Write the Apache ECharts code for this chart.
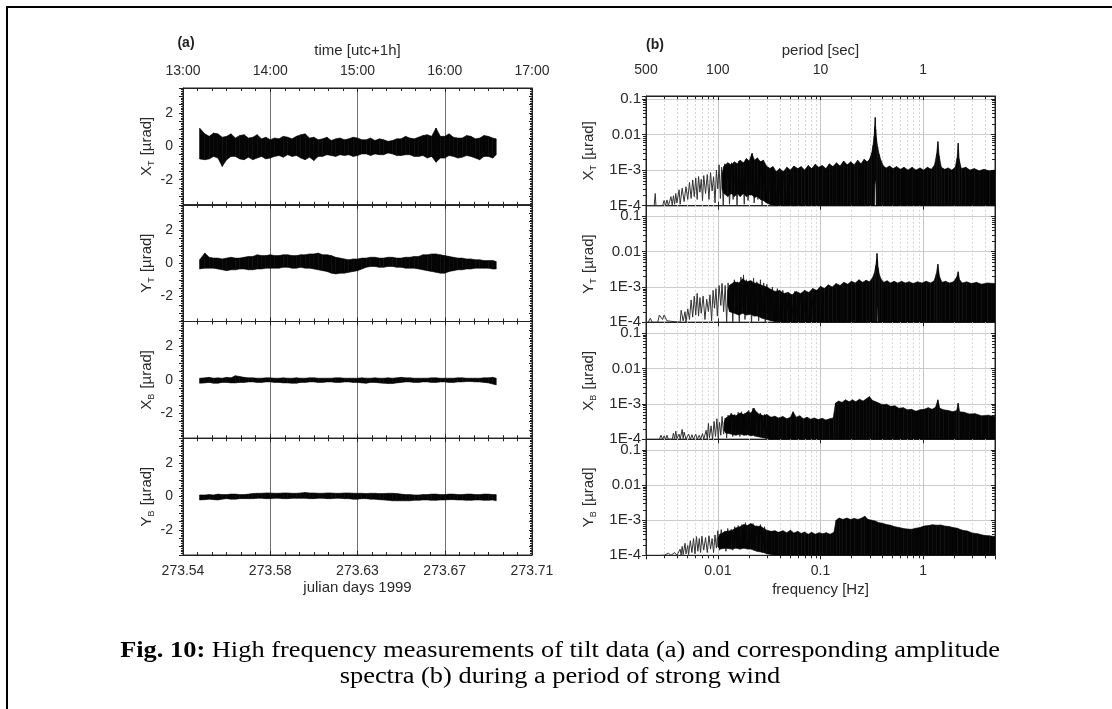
<!DOCTYPE html>
<html><head><meta charset="utf-8">
<script src="https://cdn.jsdelivr.net/npm/echarts@6/dist/echarts.min.js"></script>
<style>html,body{margin:0;padding:0;background:#fff}#c{width:1112px;height:709px}</style>
</head><body><div id="c"></div>
<script>
// ================= DATA =================
const timeTickLabels = ['13:00','14:00','15:00','16:00','17:00'];
const julianTickLabels = ['273.54','273.58','273.63','273.67','273.71'];
const leftYTicks = [2, 0, -2];
// sample times of the envelope readings (hours, utc+1h)
const sampleTimes = [13.19,
 13.25,13.3,13.35,13.4,13.45,13.5,13.55,13.6,13.65,13.7,13.75,13.8,13.85,13.9,13.95,
 14.0,14.05,14.1,14.15,14.2,14.25,14.3,14.35,14.4,14.45,14.5,14.55,14.6,14.65,14.7,14.75,14.8,14.85,14.9,14.95,
 15.0,15.05,15.1,15.15,15.2,15.25,15.3,15.35,15.4,15.45,15.5,15.55,15.6,15.65,15.7,15.75,15.8,15.85,15.9,15.95,
 16.0,16.05,16.1,16.15,16.2,16.25,16.3,16.35,16.4,16.45,16.5,16.55,
 16.59];
// tilt envelopes (µrad): upper / lower edge of the dense trace
const xtUpper = [1.1,
 0.75,0.6,0.8,0.75,0.55,0.6,0.75,0.5,0.65,0.7,0.5,0.55,0.7,0.45,0.55,
 0.4,0.5,0.45,0.6,0.55,0.45,0.6,0.7,0.75,0.5,0.55,0.4,0.45,0.55,0.35,0.45,0.5,0.4,0.45,0.55,
 0.5,0.4,0.4,0.5,0.35,0.45,0.4,0.3,0.35,0.45,0.45,0.6,0.5,0.45,0.55,0.65,0.7,0.6,1.1,0.6,
 0.6,0.75,0.55,0.5,0.5,0.65,0.6,0.45,0.5,0.65,0.6,0.5,
 0.45];
const xtLower = [-0.75,
 -0.8,-0.75,-0.6,-0.7,-1.2,-0.8,-0.6,-0.6,-0.75,-0.8,-0.65,-0.8,-0.7,-0.6,-0.75,
 -0.7,-0.6,-0.55,-0.65,-0.5,-0.6,-0.55,-0.7,-0.8,-0.65,-0.85,-0.6,-0.6,-0.5,-0.55,-0.6,-0.5,-0.55,-0.5,-0.6,
 -0.55,-0.45,-0.45,-0.55,-0.45,-0.5,-0.5,-0.4,-0.45,-0.55,-0.55,-0.5,-0.5,-0.6,-0.6,-0.55,-0.7,-0.6,-0.95,-0.7,
 -0.7,-0.55,-0.6,-0.7,-0.65,-0.55,-0.6,-0.7,-0.8,-0.6,-0.6,-0.7,
 -0.5];
const ytUpper = [0.2,
 0.6,0.35,0.3,0.3,0.25,0.3,0.35,0.3,0.3,0.35,0.4,0.4,0.5,0.45,0.45,
 0.5,0.45,0.45,0.5,0.5,0.45,0.45,0.5,0.5,0.55,0.55,0.6,0.5,0.5,0.45,0.35,0.3,0.25,0.2,0.25,
 0.25,0.3,0.3,0.35,0.35,0.3,0.3,0.35,0.35,0.3,0.3,0.35,0.35,0.4,0.4,0.5,0.5,0.55,0.55,0.5,
 0.45,0.4,0.35,0.3,0.3,0.25,0.25,0.2,0.2,0.15,0.15,0.15,
 0.1];
const ytLower = [-0.35,
 -0.3,-0.3,-0.3,-0.35,-0.4,-0.45,-0.4,-0.4,-0.35,-0.35,-0.4,-0.4,-0.35,-0.35,-0.3,
 -0.3,-0.3,-0.3,-0.25,-0.25,-0.3,-0.3,-0.25,-0.3,-0.3,-0.35,-0.4,-0.45,-0.5,-0.6,-0.65,-0.6,-0.6,-0.55,-0.5,
 -0.45,-0.35,-0.25,-0.2,-0.2,-0.25,-0.25,-0.2,-0.2,-0.25,-0.25,-0.3,-0.3,-0.3,-0.35,-0.4,-0.45,-0.5,-0.55,-0.6,
 -0.6,-0.5,-0.45,-0.4,-0.4,-0.35,-0.35,-0.3,-0.3,-0.3,-0.3,-0.35,
 -0.35];
const xbUpper = [0.1,
 0.12,0.15,0.1,0.12,0.1,0.15,0.12,0.25,0.2,0.15,0.12,0.12,0.1,0.1,0.12,
 0.12,0.1,0.1,0.12,0.1,0.1,0.12,0.1,0.1,0.12,0.12,0.1,0.1,0.1,0.1,0.12,0.12,0.1,0.1,0.1,
 0.1,0.12,0.1,0.1,0.12,0.1,0.1,0.12,0.1,0.12,0.15,0.12,0.12,0.1,0.1,0.1,0.1,0.12,0.12,0.1,
 0.1,0.1,0.1,0.12,0.12,0.1,0.1,0.1,0.1,0.12,0.12,0.15,
 0.1];
const xbLower = [-0.2,
 -0.18,-0.15,-0.2,-0.2,-0.15,-0.15,-0.18,-0.18,-0.15,-0.15,-0.12,-0.12,-0.15,-0.15,-0.12,
 -0.12,-0.15,-0.15,-0.18,-0.18,-0.2,-0.2,-0.15,-0.15,-0.12,-0.12,-0.15,-0.15,-0.12,-0.12,-0.15,-0.15,-0.12,-0.12,-0.15,
 -0.15,-0.18,-0.2,-0.15,-0.15,-0.18,-0.2,-0.22,-0.22,-0.18,-0.15,-0.12,-0.12,-0.15,-0.15,-0.12,-0.12,-0.15,-0.15,-0.12,
 -0.12,-0.15,-0.15,-0.12,-0.12,-0.1,-0.1,-0.12,-0.12,-0.15,-0.18,-0.25,
 -0.3];
const ybUpper = [0.1,
 0.1,0.12,0.1,0.15,0.12,0.12,0.15,0.15,0.12,0.12,0.15,0.18,0.2,0.2,0.22,
 0.22,0.2,0.2,0.22,0.22,0.2,0.2,0.22,0.25,0.22,0.22,0.2,0.2,0.22,0.22,0.2,0.2,0.22,0.22,0.2,
 0.2,0.2,0.18,0.2,0.2,0.18,0.18,0.2,0.2,0.18,0.15,0.12,0.12,0.1,0.1,0.12,0.12,0.15,0.15,0.12,
 0.12,0.15,0.15,0.12,0.12,0.15,0.15,0.12,0.12,0.15,0.15,0.12,
 0.12];
const ybLower = [-0.2,
 -0.18,-0.15,-0.18,-0.2,-0.15,-0.12,-0.15,-0.15,-0.12,-0.12,-0.12,-0.12,-0.1,-0.1,-0.12,
 -0.12,-0.1,-0.1,-0.12,-0.12,-0.1,-0.1,-0.1,-0.1,-0.12,-0.12,-0.1,-0.1,-0.12,-0.12,-0.1,-0.1,-0.12,-0.12,-0.15,
 -0.15,-0.12,-0.12,-0.15,-0.15,-0.18,-0.2,-0.22,-0.25,-0.25,-0.25,-0.25,-0.25,-0.22,-0.22,-0.2,-0.2,-0.22,-0.22,-0.2,
 -0.2,-0.18,-0.18,-0.2,-0.2,-0.22,-0.22,-0.2,-0.2,-0.22,-0.22,-0.2,
 -0.25];

// spectra tick labels
const specYTickExp = [-1,-2,-3,-4];
const specYTickText = ['0.1','0.01','1E-3','1E-4'];
const freqTickValues = [0.01,0.1,1];
const freqTickText = ['0.01','0.1','1'];
const periodTickFreq = [0.002,0.01,0.1,1];
const periodTickText = ['500','100','10','1'];

// spectra: sparse low-frequency lines [frequency Hz, amplitude µrad]
const xtLines = [[0.0021,1e-4],[0.0024,1e-4],[0.00246,2.2e-4],[0.0025,1e-4],[0.0029,1e-4],[0.003,1.4e-4],[0.0031,1e-4],[0.0032,1.45e-4],[0.0033,1e-4],[0.0035,1.8e-4],[0.0036,1.05e-4],[0.0037,1.9e-4],[0.0038,1.1e-4],[0.0039,2.2e-4],[0.004,1.2e-4],[0.0042,2.8e-4],[0.0043,1.1e-4],[0.0045,3.1e-4],[0.0047,1.3e-4],[0.0049,3.4e-4],[0.0051,1.5e-4],[0.0053,4.5e-4],[0.0055,1.6e-4],[0.0057,5.3e-4],[0.0059,1.8e-4],[0.0061,6e-4],[0.0063,1.5e-4],[0.0065,6.6e-4],[0.0067,2.4e-4],[0.0069,5.5e-4],[0.0071,1.4e-4],[0.0073,7e-4],[0.0076,2.2e-4],[0.0079,7.5e-4],[0.0082,1.5e-4],[0.0085,8.5e-4],[0.0088,2.6e-4],[0.0091,6.5e-4],[0.0094,1.2e-4],[0.0097,1e-3],[0.01,3e-4],[0.0103,1.4e-3],[0.0106,1.6e-4],[0.0109,1.2e-3],[0.0113,1e-4],[0.0117,1.5e-3],[0.0121,2.5e-4],[0.0126,1.3e-3],[0.013,1.1e-4],[0.0136,1.6e-3],[0.0141,1.5e-4],[0.0148,1.4e-3],[0.0154,1e-4],[0.016,1.8e-3],[0.0167,2e-4],[0.0174,1.5e-3],[0.0181,1.1e-4],[0.0189,2e-3],[0.0197,1.4e-4],[0.0207,1.7e-3],[0.0217,2.9e-3],[0.0226,1.2e-4],[0.0236,2e-3],[0.0246,1.5e-4],[0.0258,1.8e-3],[0.027,1e-4],[0.0284,1.6e-3],[0.0298,1.3e-4],[0.0313,1.2e-3],[0.033,1e-4],[0.035,1.1e-3],[0.037,1.2e-4],[0.039,1e-3],[0.041,1e-4],[0.044,9e-4],[0.047,1.1e-4],[0.05,1e-3],[0.054,1e-4]];
const ytLines = [[0.0021,1e-4],[0.0022,1.3e-4],[0.0023,1e-4],[0.0026,1e-4],[0.0027,1.6e-4],[0.0029,1.2e-4],[0.003,1.6e-4],[0.0032,1.1e-4],[0.0033,1e-4],[0.0043,1e-4],[0.0044,2.2e-4],[0.0046,1.1e-4],[0.0048,2e-4],[0.0049,1e-4],[0.0051,2.4e-4],[0.0053,1.2e-4],[0.0055,4.3e-4],[0.0057,1.4e-4],[0.0059,5.5e-4],[0.0061,1.6e-4],[0.0063,6.6e-4],[0.0065,1.5e-4],[0.0067,5e-4],[0.0069,1.8e-4],[0.0072,5.5e-4],[0.0075,1.2e-4],[0.0078,4.5e-4],[0.0081,2e-4],[0.0084,6e-4],[0.0087,1.1e-4],[0.009,8e-4],[0.0093,2.5e-4],[0.0096,9e-4],[0.0099,1.5e-4],[0.0103,1.1e-3],[0.0107,3e-4],[0.011,1.26e-3],[0.0114,2e-4],[0.0118,1.1e-3],[0.0122,1e-4],[0.0126,1.3e-3],[0.013,2.5e-4],[0.0135,1.2e-3],[0.014,1e-4],[0.0145,1.6e-3],[0.015,3e-4],[0.0156,1.4e-3],[0.0162,1e-4],[0.0168,1.9e-3],[0.0174,3e-4],[0.0178,2.2e-3],[0.0184,1.2e-4],[0.019,1.6e-3],[0.0197,2e-4],[0.0205,1.5e-3],[0.0213,1e-4],[0.0223,1.8e-3],[0.023,2e-4],[0.024,1.4e-3],[0.025,1.1e-4],[0.026,1.6e-3],[0.027,2e-4],[0.028,1.3e-3],[0.029,1e-4],[0.03,1.2e-3],[0.032,1.5e-4],[0.034,1e-3],[0.036,1e-4],[0.038,9e-4],[0.04,1.3e-4],[0.043,8e-4],[0.046,1e-4],[0.049,7e-4],[0.052,1.1e-4],[0.056,7.5e-4],[0.06,1e-4],[0.064,6e-4],[0.068,1.2e-4],[0.072,7e-4],[0.077,1e-4],[0.082,6.5e-4],[0.087,1e-4],[0.092,8e-4],[0.1,1e-4]];
const xbLines = [[0.0027,1e-4],[0.0028,1.3e-4],[0.0029,1e-4],[0.003,1.25e-4],[0.0031,1e-4],[0.0032,1.3e-4],[0.0033,1e-4],[0.0036,1e-4],[0.0037,1.5e-4],[0.0038,1e-4],[0.0039,1.7e-4],[0.004,1.05e-4],[0.0042,1.4e-4],[0.0043,1e-4],[0.0045,1.9e-4],[0.0046,1.05e-4],[0.0047,1.6e-4],[0.0049,1e-4],[0.0052,1.4e-4],[0.0054,1e-4],[0.0056,1.35e-4],[0.0058,1e-4],[0.0061,1.4e-4],[0.0063,1e-4],[0.0066,1.3e-4],[0.0068,1e-4],[0.0071,1.45e-4],[0.0073,1e-4],[0.0077,1.8e-4],[0.0079,1e-4],[0.0081,2.8e-4],[0.0083,1.1e-4],[0.0086,2.4e-4],[0.0089,1e-4],[0.0092,3.2e-4],[0.0095,1.2e-4],[0.0098,3.8e-4],[0.0101,1.1e-4],[0.0104,3e-4],[0.0107,1.3e-4],[0.011,4.4e-4],[0.0114,1.4e-4],[0.0118,4e-4],[0.0122,1.1e-4],[0.0126,4.8e-4],[0.013,1.5e-4],[0.0135,5.5e-4],[0.014,1.2e-4],[0.0146,5e-4],[0.0152,1.6e-4],[0.0158,5.8e-4],[0.0164,1.2e-4],[0.017,6e-4],[0.0177,1.5e-4],[0.0184,5.5e-4],[0.0191,1.3e-4],[0.02,6.5e-4],[0.021,1.4e-4],[0.022,7.5e-4],[0.023,1.2e-4],[0.024,6e-4],[0.025,1.5e-4],[0.026,5.5e-4],[0.0272,1.1e-4],[0.0285,5e-4],[0.03,1.3e-4]];
const ybLines = [[0.0028,1e-4],[0.0029,1.1e-4],[0.003,1e-4],[0.0033,1.15e-4],[0.0035,1e-4],[0.0038,1.2e-4],[0.004,1e-4],[0.0043,1.5e-4],[0.0044,1e-4],[0.0045,1.8e-4],[0.0046,1.05e-4],[0.0048,2.2e-4],[0.0049,1.1e-4],[0.0051,1.9e-4],[0.0052,1.05e-4],[0.0054,2.6e-4],[0.0056,1.2e-4],[0.0058,3e-4],[0.006,1.1e-4],[0.0062,3.4e-4],[0.0064,1.3e-4],[0.0066,3e-4],[0.0068,1.2e-4],[0.007,3.5e-4],[0.0073,1.4e-4],[0.0076,3.2e-4],[0.0079,1.2e-4],[0.0082,3.6e-4],[0.0085,1.5e-4],[0.0088,3e-4],[0.0091,1.2e-4],[0.0094,3.8e-4],[0.0097,1.6e-4],[0.01,5e-4],[0.0104,1.4e-4],[0.0108,5.4e-4],[0.0112,1.8e-4],[0.0116,4.8e-4],[0.012,1.3e-4],[0.0125,5.8e-4],[0.013,1.8e-4],[0.0135,5.5e-4],[0.014,1.4e-4],[0.0146,6.5e-4],[0.0152,2e-4],[0.0158,7e-4],[0.0165,1.5e-4],[0.0172,7.5e-4],[0.0179,2e-4],[0.0186,8.5e-4],[0.0194,1.6e-4],[0.0202,7.5e-4],[0.021,2e-4],[0.022,8e-4],[0.023,1.4e-4],[0.024,7e-4],[0.025,1.8e-4],[0.026,7.5e-4],[0.0272,1.2e-4],[0.0285,6.5e-4],[0.03,1.5e-4]];

// spectra: dense part envelope [frequency Hz, upper, lower]
const xtBand = [[0.011,8e-4,3e-4],[0.0115,1.3e-3,2.2e-4],[0.0125,1.6e-3,1.8e-4],[0.0135,1.4e-3,2.2e-4],[0.0145,1.7e-3,1.8e-4],[0.0155,1.5e-3,2.2e-4],[0.0165,1.9e-3,1.8e-4],[0.0178,1.6e-3,2.2e-4],[0.019,2.1e-3,1.8e-4],[0.0202,1.8e-3,2e-4],[0.0215,2.9e-3,2e-4],[0.0228,1.9e-3,1.7e-4],[0.0243,2.2e-3,1.8e-4],[0.026,1.7e-3,1.5e-4],[0.0278,1.9e-3,1.4e-4],[0.0298,1.3e-3,1.2e-4],[0.032,1.1e-3,1.1e-4],[0.0345,1.25e-3,1.05e-4],[0.037,9e-4,1e-4],[0.04,1.1e-3,1.05e-4],[0.0435,9e-4,1e-4],[0.047,1.2e-3,1e-4],[0.051,1e-3,1e-4],[0.055,1.3e-3,1e-4],[0.06,1.1e-3,1e-4],[0.065,1.25e-3,1e-4],[0.07,1e-3,1e-4],[0.076,1.35e-3,1e-4],[0.082,1.1e-3,1e-4],[0.089,1.45e-3,1e-4],[0.096,1.2e-3,1e-4],[0.104,1.35e-3,1e-4],[0.113,1.1e-3,1e-4],[0.122,1.5e-3,1e-4],[0.132,1.25e-3,1e-4],[0.143,1.6e-3,1e-4],[0.155,1.3e-3,1e-4],[0.168,1.8e-3,1e-4],[0.182,1.4e-3,1e-4],[0.197,1.7e-3,1e-4],[0.213,1.4e-3,1e-4],[0.23,1.9e-3,1e-4],[0.248,1.5e-3,1e-4],[0.266,2e-3,1e-4],[0.285,1.7e-3,1e-4],[0.3,2e-3,1e-4],[0.315,3e-3,1e-4],[0.325,5e-3,1e-4],[0.333,9e-3,1e-4],[0.337,1.6e-2,4e-4],[0.341,3e-2,5e-4],[0.345,1.4e-2,5e-4],[0.35,8e-3,1e-4],[0.36,4.5e-3,1e-4],[0.372,2.8e-3,1e-4],[0.39,1.8e-3,1e-4],[0.41,1.3e-3,1e-4],[0.435,1.15e-3,1e-4],[0.47,1.3e-3,1e-4],[0.51,1.1e-3,1e-4],[0.55,1.25e-3,1e-4],[0.6,1.05e-3,1e-4],[0.65,1.2e-3,1e-4],[0.71,1e-3,1e-4],[0.78,1.2e-3,1e-4],[0.85,1e-3,1e-4],[0.93,1.15e-3,1e-4],[1.01,1e-3,1e-4],[1.1,1.2e-3,1e-4],[1.2,1.05e-3,1e-4],[1.29,1.4e-3,1e-4],[1.35,2.8e-3,1e-4],[1.39,6.3e-3,1e-4],[1.43,2.5e-3,1e-4],[1.5,1.2e-3,1e-4],[1.62,1.05e-3,1e-4],[1.75,1.15e-3,1e-4],[1.9,1e-3,1e-4],[2.05,1.2e-3,1e-4],[2.14,2.2e-3,1e-4],[2.19,5.7e-3,1e-4],[2.24,2e-3,1e-4],[2.35,1.1e-3,1e-4],[2.6,1.2e-3,1e-4],[2.85,1e-3,1e-4],[3.15,1.1e-3,1e-4],[3.5,9.5e-4,1e-4],[3.9,1.05e-3,1e-4],[4.4,9.5e-4,1e-4],[5,1e-3,1e-4]];
const ytBand = [[0.0125,8e-4,3e-4],[0.013,1.1e-3,2e-4],[0.0145,1.4e-3,1.8e-4],[0.016,1.3e-3,1.6e-4],[0.0175,1.7e-3,1.8e-4],[0.019,1.4e-3,1.6e-4],[0.021,1.5e-3,1.7e-4],[0.0225,1.3e-3,1.5e-4],[0.0245,1.25e-3,1.5e-4],[0.027,1.1e-3,1.3e-4],[0.03,1e-3,1.2e-4],[0.033,8.5e-4,1.1e-4],[0.036,7.5e-4,1.05e-4],[0.04,8e-4,1e-4],[0.044,6.5e-4,1e-4],[0.048,7e-4,1e-4],[0.053,6e-4,1e-4],[0.058,7.5e-4,1e-4],[0.064,6.5e-4,1e-4],[0.07,8e-4,1e-4],[0.077,7e-4,1e-4],[0.084,9e-4,1e-4],[0.092,8e-4,1e-4],[0.1,1.05e-3,1e-4],[0.109,9e-4,1e-4],[0.119,1.15e-3,1e-4],[0.13,1e-3,1e-4],[0.142,1.25e-3,1e-4],[0.155,1.1e-3,1e-4],[0.169,1.35e-3,1e-4],[0.184,1.2e-3,1e-4],[0.2,1.45e-3,1e-4],[0.218,1.3e-3,1e-4],[0.237,1.6e-3,1e-4],[0.257,1.35e-3,1e-4],[0.278,1.55e-3,1e-4],[0.3,1.4e-3,1e-4],[0.32,1.8e-3,1e-4],[0.335,2.5e-3,1e-4],[0.345,4e-3,1e-4],[0.352,6e-3,1e-4],[0.355,8.9e-3,2.8e-4],[0.359,6e-3,2.8e-4],[0.364,3.5e-3,1e-4],[0.375,2.2e-3,1e-4],[0.392,1.6e-3,1e-4],[0.415,1.35e-3,1e-4],[0.445,1.5e-3,1e-4],[0.48,1.3e-3,1e-4],[0.52,1.45e-3,1e-4],[0.565,1.3e-3,1e-4],[0.615,1.45e-3,1e-4],[0.67,1.3e-3,1e-4],[0.73,1.4e-3,1e-4],[0.8,1.25e-3,1e-4],[0.88,1.4e-3,1e-4],[0.97,1.3e-3,1e-4],[1.07,1.45e-3,1e-4],[1.18,1.3e-3,1e-4],[1.28,1.5e-3,1e-4],[1.34,2.3e-3,1e-4],[1.39,4.4e-3,1e-4],[1.44,2e-3,1e-4],[1.52,1.35e-3,1e-4],[1.65,1.45e-3,1e-4],[1.8,1.3e-3,1e-4],[1.97,1.4e-3,1e-4],[2.12,1.9e-3,1e-4],[2.19,2.7e-3,1e-4],[2.26,1.6e-3,1e-4],[2.4,1.3e-3,1e-4],[2.65,1.4e-3,1e-4],[2.95,1.25e-3,1e-4],[3.3,1.35e-3,1e-4],[3.7,1.2e-3,1e-4],[4.2,1.3e-3,1e-4],[5,1.25e-3,1e-4]];
const xbBand = [[0.0115,3e-4,1.8e-4],[0.012,4e-4,1.5e-4],[0.0135,5e-4,1.4e-4],[0.015,4.6e-4,1.3e-4],[0.0165,5.5e-4,1.4e-4],[0.018,5e-4,1.3e-4],[0.0195,6e-4,1.35e-4],[0.021,5.5e-4,1.25e-4],[0.0225,7.5e-4,1.3e-4],[0.024,5.5e-4,1.2e-4],[0.026,5e-4,1.15e-4],[0.028,4.6e-4,1.1e-4],[0.03,5e-4,1.05e-4],[0.033,4.2e-4,1e-4],[0.036,4.5e-4,1e-4],[0.039,4e-4,1e-4],[0.043,4.4e-4,1e-4],[0.047,3.8e-4,1e-4],[0.051,4.2e-4,1e-4],[0.054,6e-4,1e-4],[0.058,4.2e-4,1e-4],[0.063,4.6e-4,1e-4],[0.068,3.8e-4,1e-4],[0.074,4.2e-4,1e-4],[0.08,3.7e-4,1e-4],[0.087,4e-4,1e-4],[0.095,3.6e-4,1e-4],[0.104,3.9e-4,1e-4],[0.113,3.5e-4,1e-4],[0.123,3.8e-4,1e-4],[0.133,4e-4,1e-4],[0.14,1.05e-3,1e-4],[0.15,1.2e-3,1e-4],[0.162,1.1e-3,1e-4],[0.175,1.3e-3,1e-4],[0.19,1.15e-3,1e-4],[0.205,1.3e-3,1e-4],[0.22,1.15e-3,1e-4],[0.24,1.35e-3,1e-4],[0.26,1.2e-3,1e-4],[0.28,1.4e-3,1e-4],[0.3,1.6e-3,1e-4],[0.32,1.25e-3,1e-4],[0.345,1.15e-3,1e-4],[0.37,1.05e-3,1e-4],[0.4,9.5e-4,1e-4],[0.44,9.8e-4,1e-4],[0.48,8.5e-4,1e-4],[0.53,8.8e-4,1e-4],[0.58,7.5e-4,1e-4],[0.64,7.8e-4,1e-4],[0.7,6.8e-4,1e-4],[0.77,7e-4,1e-4],[0.85,6.2e-4,1e-4],[0.93,6.8e-4,1e-4],[1.02,7e-4,1e-4],[1.12,7.8e-4,1e-4],[1.22,7e-4,1e-4],[1.32,8e-4,1e-4],[1.39,1.3e-3,1e-4],[1.45,7.5e-4,1e-4],[1.58,6.8e-4,1e-4],[1.75,6.5e-4,1e-4],[1.95,6e-4,1e-4],[2.12,6.5e-4,1e-4],[2.19,1.05e-3,1e-4],[2.26,6e-4,1e-4],[2.5,5.8e-4,1e-4],[2.8,5.2e-4,1e-4],[3.2,5.3e-4,1e-4],[3.7,4.6e-4,1e-4],[4.3,4.8e-4,1e-4],[5,4.4e-4,1e-4]];
const ybBand = [[0.01,3e-4,1.8e-4],[0.0105,4e-4,1.5e-4],[0.012,4.8e-4,1.6e-4],[0.0135,5e-4,1.5e-4],[0.015,6e-4,1.6e-4],[0.0165,6.5e-4,1.5e-4],[0.018,7.5e-4,1.6e-4],[0.0195,7e-4,1.5e-4],[0.021,8e-4,1.5e-4],[0.0225,7e-4,1.4e-4],[0.024,6.5e-4,1.3e-4],[0.026,6.8e-4,1.25e-4],[0.028,5.8e-4,1.2e-4],[0.03,5.2e-4,1.1e-4],[0.033,4.8e-4,1.05e-4],[0.036,5e-4,1e-4],[0.039,4.5e-4,1e-4],[0.043,5e-4,1e-4],[0.047,4.4e-4,1e-4],[0.051,5.2e-4,1e-4],[0.055,4.3e-4,1e-4],[0.06,4.8e-4,1e-4],[0.065,4.2e-4,1e-4],[0.07,4.6e-4,1e-4],[0.076,4e-4,1e-4],[0.082,4.5e-4,1e-4],[0.089,4e-4,1e-4],[0.097,4.4e-4,1e-4],[0.105,4.1e-4,1e-4],[0.114,4.4e-4,1e-4],[0.124,4e-4,1e-4],[0.135,4.5e-4,1e-4],[0.142,1e-3,1e-4],[0.152,1.15e-3,1e-4],[0.165,1.05e-3,1e-4],[0.18,1.15e-3,1e-4],[0.196,1.05e-3,1e-4],[0.213,1.12e-3,1e-4],[0.232,1.05e-3,1e-4],[0.252,1.15e-3,1e-4],[0.27,1.3e-3,1e-4],[0.29,1.05e-3,1e-4],[0.315,1e-3,1e-4],[0.34,9.5e-4,1e-4],[0.37,8.5e-4,1e-4],[0.4,8.2e-4,1e-4],[0.44,7.5e-4,1e-4],[0.48,7.2e-4,1e-4],[0.53,6.5e-4,1e-4],[0.58,6.2e-4,1e-4],[0.64,5.8e-4,1e-4],[0.7,5.6e-4,1e-4],[0.77,5.5e-4,1e-4],[0.85,5.9e-4,1e-4],[0.93,6.2e-4,1e-4],[1.02,6.8e-4,1e-4],[1.12,7e-4,1e-4],[1.23,7.4e-4,1e-4],[1.35,7.2e-4,1e-4],[1.48,7.3e-4,1e-4],[1.62,6.8e-4,1e-4],[1.78,6.6e-4,1e-4],[1.95,6.2e-4,1e-4],[2.15,5.9e-4,1e-4],[2.4,5.2e-4,1e-4],[2.7,4.9e-4,1e-4],[3.0,4.3e-4,1e-4],[3.4,4.1e-4,1e-4],[3.9,3.7e-4,1e-4],[4.4,3.6e-4,1e-4],[5,3.4e-4,1e-4]];

// ================= BUILD =================
const FONT = '"Liberation Sans", Arial, Helvetica, sans-serif';
const SERIF = '"Liberation Serif", "Times New Roman", serif';
const AX = '#222';
const TXT = '#2a2a2a';

const leftPanels = [
  {sub:'T', letter:'X', up:xtUpper, lo:xtLower},
  {sub:'T', letter:'Y', up:ytUpper, lo:ytLower},
  {sub:'B', letter:'X', up:xbUpper, lo:xbLower},
  {sub:'B', letter:'Y', up:ybUpper, lo:ybLower}
];
const rightPanels = [
  {sub:'T', letter:'X', lines:xtLines, band:xtBand, ymax:0.12},
  {sub:'T', letter:'Y', lines:ytLines, band:ytBand, ymax:0.2},
  {sub:'B', letter:'X', lines:xbLines, band:xbBand, ymax:0.2},
  {sub:'B', letter:'Y', lines:ybLines, band:ybBand, ymax:0.2}
];
const leftTops = [88, 204.75, 321.5, 438.25], leftH = 116.75;
const rightTops = [96, 205.7, 322.3, 439.3], rightBottoms = [205.7, 322.3, 439.3, 555.3];

const nameRich = {
  n: {fontSize: 15, fontFamily: FONT, color: TXT, lineHeight: 18},
  s: {fontSize: 9, fontFamily: FONT, color: TXT, verticalAlign: 'bottom', lineHeight: 9, padding: [0, 1, 0, 0]}
};
function yName(p){ return '{n|' + p.letter + '}{s|' + p.sub + '}{n| [µrad]}'; }

// log-axis minor positions (2..9 within each decade)
function minorsBetween(a, b){
  const out = [];
  for (let e = -5; e <= 1; e++) for (let m = 2; m <= 9; m++) {
    const v = m * Math.pow(10, e);
    if (v > a * 1.0001 && v < b * 0.9999) out.push(v);
  }
  return out;
}
const freqMinors = minorsBetween(0.002, 5);

const grids = [], xAxes = [], yAxes = [], series = [];
const lbl = {fontSize: 14, color: TXT, fontFamily: FONT};

function bandRender(pts){
  return function(params, api){
    const i = params.dataIndex;
    if (i >= pts.length - 1) return null;
    const a = pts[i], b = pts[i + 1];
    const p1 = api.coord([a[0], a[1]]), p2 = api.coord([b[0], b[1]]);
    const p3 = api.coord([b[0], b[2]]), p4 = api.coord([a[0], a[2]]);
    return {type: 'polygon', shape: {points: [p1, p2, p3, p4]},
      style: {fill: '#050505', stroke: '#050505', lineWidth: 0.6}};
  };
}

// ---- left (time series) panels ----
leftPanels.forEach((p, i) => {
  const g = grids.length;
  grids.push({left: 183, top: leftTops[i], width: 349, height: leftH, show: true,
    borderColor: AX, borderWidth: 1, backgroundColor: 'transparent', containLabel: false, outerBoundsMode: 'none'});
  const xb = xAxes.length;
  xAxes.push({gridIndex: g, type: 'value', position: 'bottom', min: 13, max: 17, interval: 1,
    axisLine: {show: true, onZero: false, lineStyle: {color: AX}},
    axisTick: {show: true, inside: true, length: 4, lineStyle: {color: AX}},
    minorTick: {show: true, splitNumber: 6, length: 3, lineStyle: {color: AX}},
    splitLine: {show: true, lineStyle: {color: '#707070', width: 1}},
    axisLabel: {show: i === 3, margin: 9, formatter: v => julianTickLabels[Math.round(v - 13)] || '', ...lbl},
    name: i === 3 ? 'julian days 1999' : '', nameLocation: 'middle', nameGap: 25,
    nameTextStyle: {fontSize: 15, color: TXT, fontFamily: FONT}});
  xAxes.push({gridIndex: g, type: 'value', position: 'top', min: 13, max: 17, interval: 1,
    axisLine: {show: true, onZero: false, lineStyle: {color: AX}},
    axisTick: {show: true, inside: true, length: 4, lineStyle: {color: AX}},
    minorTick: {show: true, splitNumber: 6, length: 3, lineStyle: {color: AX}},
    splitLine: {show: false},
    axisLabel: {show: i === 0, margin: 10, formatter: v => timeTickLabels[Math.round(v - 13)] || '', ...lbl},
    name: i === 0 ? 'time [utc+1h]' : '', nameLocation: 'middle', nameGap: 30,
    nameTextStyle: {fontSize: 15, color: TXT, fontFamily: FONT}});
  const yb = yAxes.length;
  yAxes.push({gridIndex: g, type: 'value', position: 'left', min: -3.5, max: 3.5, interval: 0.5,
    axisLine: {show: true, onZero: false, lineStyle: {color: AX}},
    axisTick: {show: true, inside: false, length: 4, lineStyle: {color: AX}},
    minorTick: {show: true, splitNumber: 5, length: 2, lineStyle: {color: AX}},
    splitLine: {show: false},
    axisLabel: {margin: 10, formatter: v => (leftYTicks.some(t => Math.abs(t - v) < 1e-9) ? String(Math.round(v)) : ''), ...lbl},
    name: yName(p), nameLocation: 'middle', nameGap: 27,
    nameTextStyle: {rich: nameRich}});
  yAxes.push({gridIndex: g, type: 'value', position: 'right', min: -3.5, max: 3.5, interval: 0.5,
    axisLine: {show: true, onZero: false, lineStyle: {color: AX}},
    axisTick: {show: true, inside: true, length: 3, lineStyle: {color: AX}},
    minorTick: {show: true, splitNumber: 5, length: 2, lineStyle: {color: AX}},
    splitLine: {show: false}, axisLabel: {show: false}});
  const pts = sampleTimes.map((t, k) => [t, p.up[k], p.lo[k]]);
  series.push({type: 'custom', xAxisIndex: xb, yAxisIndex: yb, silent: true, z: 5, clip: true,
    data: pts, encode: {x: 0, y: [1, 2]}, renderItem: bandRender(pts)});
});

// ---- right (spectra) panels ----
rightPanels.forEach((p, i) => {
  const g = grids.length;
  const h = rightBottoms[i] - rightTops[i];
  grids.push({left: 646, top: rightTops[i], width: 349, height: h, show: true,
    borderColor: AX, borderWidth: 1, backgroundColor: 'transparent', containLabel: false, outerBoundsMode: 'none'});
  const xb = xAxes.length;
  xAxes.push({gridIndex: g, type: 'log', logBase: 10, position: 'bottom', min: 0.002, max: 5,
    axisLine: {show: true, onZero: false, lineStyle: {color: AX}},
    axisTick: {show: true, inside: i !== 3, length: 4, lineStyle: {color: AX}},
    splitLine: {show: true, lineStyle: {color: '#c6c6c6', width: 1}},
    axisLabel: {show: i === 3, margin: 9, formatter: v => {
      const k = freqTickValues.findIndex(t => Math.abs(t - v) / t < 1e-6);
      return k >= 0 ? freqTickText[k] : '';
    }, ...lbl},
    name: i === 3 ? 'frequency [Hz]' : '', nameLocation: 'middle', nameGap: 27,
    nameTextStyle: {fontSize: 15, color: TXT, fontFamily: FONT}});
  xAxes.push({gridIndex: g, type: 'log', logBase: 10, position: 'top', min: 0.002, max: 5,
    axisLine: {show: true, onZero: false, lineStyle: {color: AX}},
    axisTick: {show: true, inside: true, length: 4, lineStyle: {color: AX}},
    splitLine: {show: false},
    axisLabel: {show: i === 0, margin: 19, showMinLabel: true, formatter: v => {
      const k = periodTickFreq.findIndex(t => Math.abs(t - v) / t < 1e-6);
      return k >= 0 ? periodTickText[k] : '';
    }, ...lbl},
    name: i === 0 ? 'period [sec]' : '', nameLocation: 'middle', nameGap: 38,
    nameTextStyle: {fontSize: 15, color: TXT, fontFamily: FONT}});
  const yb = yAxes.length;
  yAxes.push({gridIndex: g, type: 'log', logBase: 10, position: 'left', min: 1e-4, max: p.ymax,
    axisLine: {show: true, onZero: false, lineStyle: {color: AX}},
    axisTick: {show: true, inside: false, length: 4, lineStyle: {color: AX}},
    splitLine: {show: true, lineStyle: {color: '#cccccc', width: 1}},
    axisLabel: {margin: 5, fontSize: 15, color: TXT, fontFamily: FONT, formatter: v => {
      const l = Math.log10(v), e = Math.round(l);
      if (Math.abs(l - e) > 1e-6) return '';
      const k = specYTickExp.indexOf(e);
      return k >= 0 ? specYTickText[k] : '';
    }},
    name: yName(p), nameLocation: 'middle', nameGap: 48,
    nameTextStyle: {rich: nameRich}});
  yAxes.push({gridIndex: g, type: 'log', logBase: 10, position: 'right', min: 1e-4, max: p.ymax,
    axisLine: {show: true, onZero: false, lineStyle: {color: AX}},
    axisTick: {show: true, inside: true, length: 4, lineStyle: {color: AX}},
    splitLine: {show: false}, axisLabel: {show: false}});

  // minor vertical dotted grid + minor ticks
  series.push({type: 'custom', xAxisIndex: xb, yAxisIndex: yb, silent: true, z: 1, clip: false,
    data: freqMinors.map(f => [f, 1e-3]), encode: {x: 0, y: 1},
    renderItem: (params, api) => {
      const cs = params.coordSys;
      const x = Math.round(api.coord([api.value(0), 1e-3])[0]) + 0.5;
      const ch = [{type: 'line', shape: {x1: x, y1: cs.y, x2: x, y2: cs.y + cs.height},
        style: {stroke: '#d6d6d6', lineWidth: 1, lineDash: [2, 2]}}];
      if (i === 3) ch.push({type: 'line', shape: {x1: x, y1: cs.y + cs.height, x2: x, y2: cs.y + cs.height + 3}, style: {stroke: AX, lineWidth: 1}});
      if (i === 0) ch.push({type: 'line', shape: {x1: x, y1: cs.y, x2: x, y2: cs.y + 3}, style: {stroke: AX, lineWidth: 1}});
      return {type: 'group', children: ch};
    }});
  // minor y ticks (log) on left (outside) and right (inside)
  series.push({type: 'custom', xAxisIndex: xb, yAxisIndex: yb, silent: true, z: 2, clip: false,
    data: minorsBetween(1e-4, p.ymax).map(v => [0.01, v]), encode: {x: 0, y: 1},
    renderItem: (params, api) => {
      const cs = params.coordSys;
      const y = Math.round(api.coord([0.01, api.value(1)])[1]) + 0.5;
      return {type: 'group', children: [
        {type: 'line', shape: {x1: cs.x - 3, y1: y, x2: cs.x, y2: y}, style: {stroke: AX, lineWidth: 1}},
        {type: 'line', shape: {x1: cs.x + cs.width - 3, y1: y, x2: cs.x + cs.width, y2: y}, style: {stroke: AX, lineWidth: 1}}
      ]};
    }});
  // sparse lines
  series.push({type: 'line', xAxisIndex: xb, yAxisIndex: yb, data: p.lines, showSymbol: false, symbol: 'none',
    silent: true, z: 4, clip: true, lineStyle: {color: '#333', width: 1}});
  // dense band
  series.push({type: 'custom', xAxisIndex: xb, yAxisIndex: yb, silent: true, z: 5, clip: true,
    data: p.band, encode: {x: 0, y: [1, 2]}, renderItem: bandRender(p.band)});
});

const option = {
  animation: false,
  backgroundColor: '#fff',
  textStyle: {fontFamily: FONT},
  grid: grids, xAxis: xAxes, yAxis: yAxes, series: series,
  graphic: [
    {type: 'rect', silent: true, z: 100, shape: {x: 7, y: 7, width: 1125, height: 730},
      style: {fill: 'none', stroke: '#000', lineWidth: 2}},
    {type: 'text', silent: true, x: 186, y: 43, style: {text: '(a)', fontSize: 14, fontWeight: 'bold', fontFamily: FONT, fill: '#222', align: 'center', verticalAlign: 'middle'}},
    {type: 'text', silent: true, x: 655, y: 45, style: {text: '(b)', fontSize: 14, fontWeight: 'bold', fontFamily: FONT, fill: '#222', align: 'center', verticalAlign: 'middle'}},
    {type: 'text', silent: true, x: 560, y: 651, scaleX: 1.1,
      style: {text: '{b|Fig. 10:} High frequency measurements of tilt data (a) and corresponding amplitude',
        fontSize: 24, fontFamily: SERIF, fill: '#000', align: 'center', verticalAlign: 'middle',
        rich: {b: {fontSize: 24, fontFamily: SERIF, fontWeight: 'bold', fill: '#000'}}}},
    {type: 'text', silent: true, x: 560, y: 677, scaleX: 1.1,
      style: {text: 'spectra (b) during a period of strong wind',
        fontSize: 24, fontFamily: SERIF, fill: '#000', align: 'center', verticalAlign: 'middle'}}
  ]
};
const chart = echarts.init(document.getElementById('c'), null, {renderer: 'canvas', width: 1112, height: 709});
chart.setOption(option);
</script>
</body></html>
